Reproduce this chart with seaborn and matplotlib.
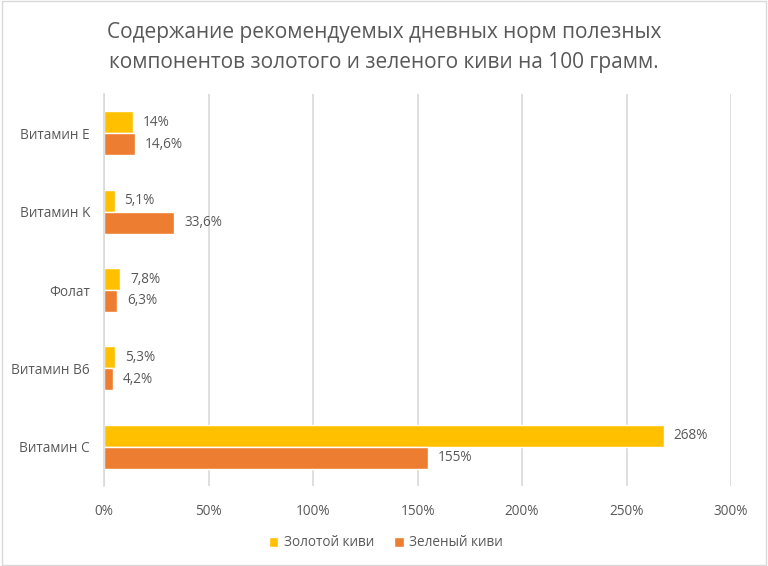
import pandas as pd
import matplotlib.pyplot as plt
import seaborn as sns

# данные с картинки
categories = ["Витамин E", "Витамин K", "Фолат", "Витамин B6", "Витамин C"]
golden = [14, 5.1, 7.8, 5.3, 268]
green = [14.6, 33.6, 6.3, 4.2, 155]
series = ["Золотой киви", "Зеленый киви"]
colors = ["#FFC000", "#ED7D31"]

def fmt(v):
    s = ("%g" % v).replace(".", ",")
    return s + "%"

df = pd.DataFrame({
    "cat": categories * 2,
    "val": golden + green,
    "kind": [series[0]] * len(categories) + [series[1]] * len(categories),
})

sns.set_theme(style="white")
plt.rcParams["font.family"] = ["Open Sans", "DejaVu Sans"]
text_c = "#595959"

fig = plt.figure(figsize=(7.68, 5.66), dpi=100)
ax = fig.add_axes([104 / 768, 1 - 486 / 566, 627 / 768, 392 / 566])

sns.barplot(data=df, y="cat", x="val", hue="kind", orient="h",
            palette=colors, width=0.56, ax=ax, saturation=1,
            order=categories, hue_order=series)

for cont, vals in zip(ax.containers, [golden, green]):
    ax.bar_label(cont, labels=[fmt(v) for v in vals], padding=7,
                 fontsize=9.8, color=text_c)

ax.set_xlim(0, 300)
ax.set_xticks(range(0, 301, 50))
ax.set_xticklabels([f"{t}%" for t in range(0, 301, 50)], fontsize=9.8, color=text_c)
ax.tick_params(axis="y", labelsize=9.8, labelcolor=text_c, length=0, pad=10)
ax.tick_params(axis="x", length=0, pad=13)
ax.set_xlabel("")
ax.set_ylabel("")
ax.grid(axis="x", color="#D9D9D9", linewidth=1.2)
ax.set_axisbelow(True)
for s in ["top", "right", "bottom"]:
    ax.spines[s].set_visible(False)
ax.spines["left"].set_color("#D9D9D9")
ax.spines["left"].set_linewidth(1.2)

# маленькие засечки между категориями
ax.set_yticks([i + 0.5 for i in range(-1, len(categories))], minor=True)
ax.tick_params(axis="y", which="minor", length=5, color="#D9D9D9", width=1.2)

ax.legend(loc="center", bbox_to_anchor=(386 / 768, 1 - 543 / 566),
          bbox_transform=fig.transFigure, ncol=2, frameon=False,
          fontsize=9.8, labelcolor=text_c, handlelength=0.7, handleheight=0.7,
          columnspacing=1.5, handletextpad=0.4)

fig.suptitle("Содержание рекомендуемых дневных норм полезных\nкомпонентов золотого и зеленого киви на 100 грамм.",
             y=0.962, fontsize=15, color=text_c, linespacing=1.6)

fig.patches.append(plt.Rectangle((0.002, 0.002), 0.996, 0.996, transform=fig.transFigure,
                                 fill=False, edgecolor="#D9D9D9", linewidth=1))

plt.savefig("out.png", dpi=100)
